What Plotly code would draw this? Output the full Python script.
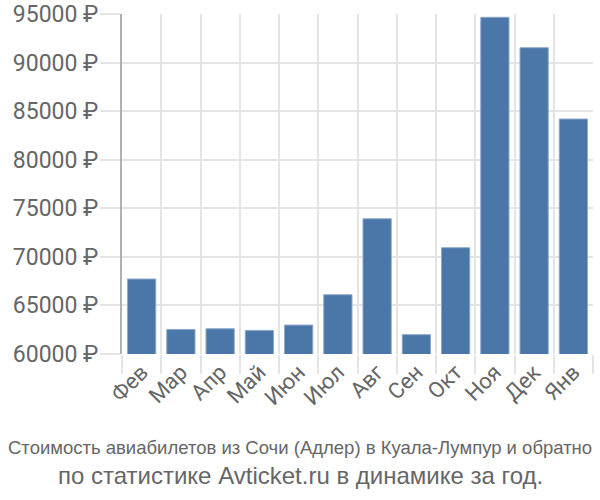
import plotly.graph_objects as go

months = ["Фев", "Мар", "Апр", "Май", "Июн", "Июл", "Авг", "Сен", "Окт", "Ноя", "Дек", "Янв"]
prices = [67720, 62530, 62600, 62430, 62980, 66100, 73920, 61990, 70940, 94660, 91530, 84190]
y_ticks = [60000, 65000, 70000, 75000, 80000, 85000, 90000, 95000]
y_labels = [f"{v} ₽" for v in y_ticks]
caption1 = "Стоимость авиабилетов из Сочи (Адлер) в Куала-Лумпур и обратно"
caption2 = "по статистике Avticket.ru в динамике за год."

fig = go.Figure(go.Bar(
    x=months, y=prices,
    marker=dict(color="#4a76a8", line=dict(color="#8fa9c9", width=1)),
))

fig.update_layout(
    width=600, height=500,
    margin=dict(l=122, r=7, t=14, b=146, autoexpand=False),
    paper_bgcolor="white", plot_bgcolor="white",
    bargap=0.28, showlegend=False,
    font=dict(family="Roboto", color="#666666", size=20),
)
fig.update_xaxes(
    type="category", tickson="boundaries", tickangle=-45,
    showgrid=True, gridcolor="#e4e4e4", gridwidth=2,
    ticks="outside", ticklen=19, tickcolor="#e4e4e4", tickwidth=2,
    tickfont=dict(size=22, color="#666666"),
    showline=False, zeroline=False, automargin=False,
)
fig.update_yaxes(
    range=[60000, 95000], tickvals=y_ticks, ticktext=y_labels,
    showgrid=True, gridcolor="#e4e4e4", gridwidth=2,
    ticks="outside", ticklen=20, tickcolor="#e4e4e4", tickwidth=2,
    tickfont=dict(size=23, color="#666666"), ticklabelstandoff=-3,
    showline=True, linecolor="#b0b0b0", linewidth=2,
    zeroline=False, automargin=False,
)
fig.add_annotation(text=caption1, xref="paper", yref="paper", x=0.5, xanchor="center",
                   y=-(447 - 354) / 340, yanchor="middle", showarrow=False,
                   font=dict(family="Liberation Sans, Arial, sans-serif", size=18.5, color="#666666"),
                   xshift=-(122 - 7) / 2)
fig.add_annotation(text=caption2, xref="paper", yref="paper", x=0.5, xanchor="center",
                   y=-(475 - 354) / 340, yanchor="middle", showarrow=False,
                   font=dict(family="Liberation Sans, Arial, sans-serif", size=24, color="#666666"),
                   xshift=-(122 - 7) / 2)

fig.write_html("out.html")
